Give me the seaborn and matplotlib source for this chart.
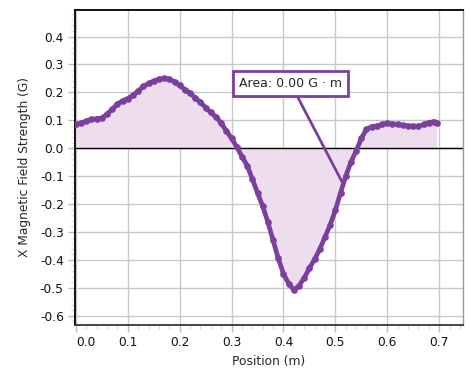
import numpy as np
import pandas as pd
import matplotlib
matplotlib.use("Agg")
import matplotlib.pyplot as plt
from matplotlib.ticker import MultipleLocator
import seaborn as sns

# Values
position = [0.00, 0.01, 0.02, 0.03, 0.04, 0.05, 0.06, 0.07, 0.08, 0.09,
            0.10, 0.11, 0.12, 0.13, 0.14, 0.15, 0.16, 0.17, 0.18, 0.19,
            0.20, 0.21, 0.22, 0.23, 0.24, 0.25, 0.26, 0.27, 0.28, 0.29,
            0.30, 0.31, 0.32, 0.33, 0.34, 0.35, 0.36, 0.37, 0.38, 0.39,
            0.40, 0.41, 0.42, 0.43, 0.44, 0.45, 0.46, 0.47, 0.48, 0.49,
            0.50, 0.51, 0.52, 0.53, 0.54, 0.55, 0.56, 0.57, 0.58, 0.59,
            0.60, 0.61, 0.62, 0.63, 0.64, 0.65, 0.66, 0.67, 0.68, 0.69, 0.695]
field_x = [0.085, 0.090, 0.097, 0.103, 0.106, 0.108, 0.122, 0.140, 0.158, 0.170,
           0.178, 0.190, 0.205, 0.222, 0.232, 0.241, 0.247, 0.250, 0.248, 0.238,
           0.225, 0.210, 0.198, 0.180, 0.165, 0.145, 0.128, 0.112, 0.090, 0.062,
           0.035, 0.005, -0.030, -0.062, -0.110, -0.160, -0.208, -0.265, -0.330, -0.395,
           -0.450, -0.485, -0.508, -0.492, -0.465, -0.430, -0.398, -0.362, -0.318, -0.275,
           -0.222, -0.160, -0.100, -0.050, -0.010, 0.035, 0.068, 0.077, 0.080, 0.085,
           0.089, 0.087, 0.086, 0.082, 0.080, 0.079, 0.078, 0.085, 0.092, 0.095, 0.090]
x_ticks = [0.0, 0.1, 0.2, 0.3, 0.4, 0.5, 0.6, 0.7]
x_tick_labels = ["0.0", "0.1", "0.2", "0.3", "0.4", "0.5", "0.6", "0.7"]
area_text = "Area: 0.00 G · m"

df = pd.DataFrame({"Position (m)": position, "X Magnetic Field Strength (G)": field_x})

purple = "#7B3F9E"
fill_col = "#EEDDEE"

sns.set_style("white")
plt.rcParams['font.family'] = ['DejaVu Sans']

fig = plt.figure(figsize=(4.71, 3.80), dpi=100)
ax = fig.add_axes([0.159, 0.145, 0.824, 0.830])

# Shaded area between curve and zero
ax.fill_between(df["Position (m)"], df["X Magnetic Field Strength (G)"], 0,
                color=fill_col, zorder=1, lw=0)
ax.axhline(0, color="black", lw=1, zorder=2)

sns.lineplot(data=df, x="Position (m)", y="X Magnetic Field Strength (G)", ax=ax,
             color=purple, lw=3.4, marker="o", markersize=4.8, markeredgewidth=0,
             zorder=3)

ax.set_xlim(-0.002, 0.746)
ax.set_ylim(-0.633, 0.497)
ax.set_xticks(x_ticks)
ax.set_xticklabels(x_tick_labels)
ax.xaxis.set_minor_locator(MultipleLocator(0.02))
ax.yaxis.set_major_locator(MultipleLocator(0.1))
ax.yaxis.set_minor_locator(MultipleLocator(0.02))
ax.yaxis.set_major_formatter(plt.FuncFormatter(lambda v, p: f"{v:.1f}"))
# first x label sits inside the axes edge, like the original
ax.get_xticklabels()[0].set_ha("left")

ax.grid(True, which="major", color="#C8C8C8", lw=1, zorder=0)
ax.set_axisbelow(True)
ax.tick_params(which="major", length=5, width=1, color="#BBBBBB", labelsize=8.8,
               labelcolor="#111111", pad=3)
ax.tick_params(which="minor", length=3, width=1, color="#DDDDDD")
ax.tick_params(axis="x", which="both", bottom=True)
ax.tick_params(axis="y", which="both", left=True)

for side, col, w in [("left", "black", 1.3), ("top", "black", 1.3),
                     ("bottom", "#333344", 1.3), ("right", "#8899CC", 1.0)]:
    ax.spines[side].set_visible(True)
    ax.spines[side].set_color(col)
    ax.spines[side].set_linewidth(w)

ax.set_xlabel("Position (m)", fontsize=8.8, labelpad=4)
ax.set_ylabel("X Magnetic Field Strength (G)", fontsize=8.8, labelpad=6)

# Callout with the integrated area
ax.annotate(area_text, xy=(0.513, -0.121), xytext=(0.414, 0.231),
            ha="center", va="center", fontsize=9, zorder=5,
            bbox=dict(boxstyle="square,pad=0.5", fc="white", ec=purple, lw=2),
            arrowprops=dict(arrowstyle="-", color=purple, lw=2, shrinkA=0, shrinkB=0))

fig.savefig("out.png", dpi=100)
